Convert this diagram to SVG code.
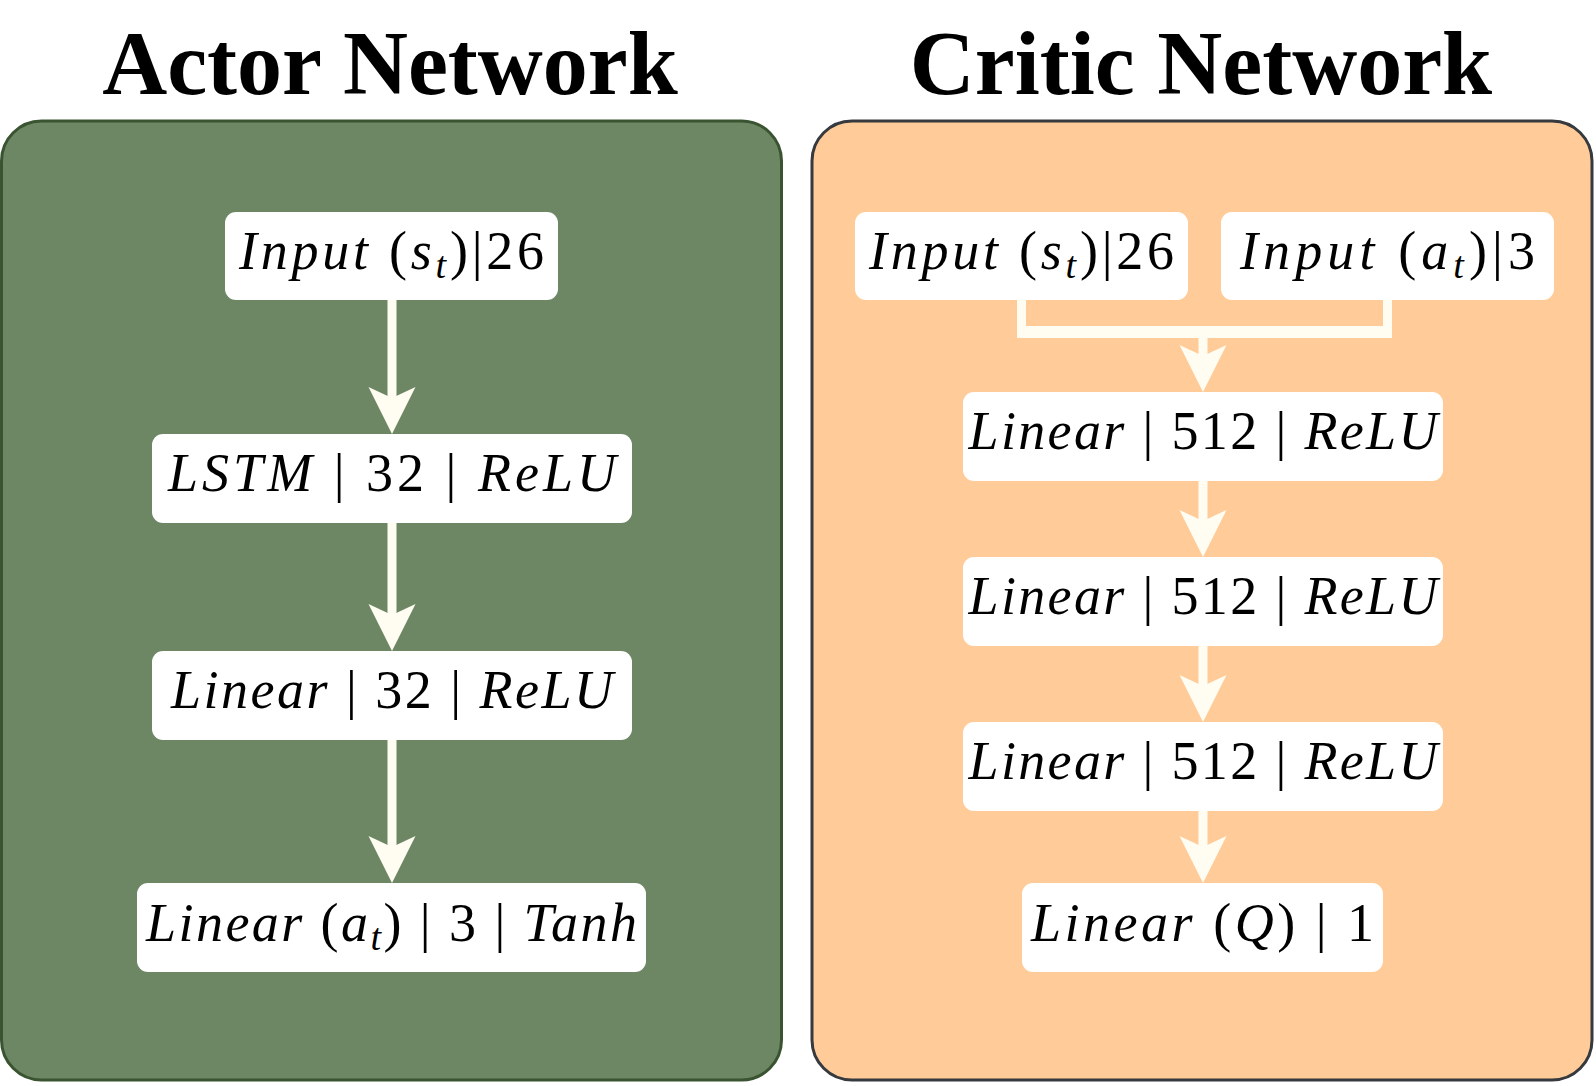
<svg xmlns="http://www.w3.org/2000/svg" width="1596" height="1086" viewBox="0 0 1596 1086">
<style>
.title{font-family:"Liberation Serif","Times New Roman",serif;font-weight:bold;font-size:90px;fill:#000;text-anchor:middle}
.lbl{font-family:"Liberation Serif","DejaVu Serif",serif;font-size:54px;fill:#000;text-anchor:middle}
.i{font-style:italic}
.box{fill:#fff;stroke:none}
.edge{fill:none;stroke:#FFFCF2;stroke-width:9;stroke-linejoin:miter}
.bar{fill:none;stroke:#FFFCF2;stroke-width:12}
</style>
<defs>
<marker id="ah" markerUnits="userSpaceOnUse" markerWidth="48" markerHeight="48" viewBox="0 0 48 48" refX="17" refY="24" orient="auto">
<path d="M47,24 L0,0.5 L11,24 L0,47.5 Z" fill="#FFFCF2"/>
</marker>
</defs>
<rect width="1596" height="1086" fill="#fff"/>
<text class="title" x="390" y="94">Actor Network</text>
<text class="title" x="1201" y="94">Critic Network</text>
<g id="actor-panel"><rect x="1.5" y="121" width="780" height="959" rx="40" fill="#6D8764" stroke="#3A5431" stroke-width="3"/></g>
<g id="critic-panel"><rect x="812" y="121" width="780" height="959" rx="40" fill="#FFCC99" stroke="#36393D" stroke-width="3"/></g>
<g id="connectors">
<path class="edge" d="M392,300 V404" marker-end="url(#ah)"/>
<path class="edge" d="M392,523 V621" marker-end="url(#ah)"/>
<path class="edge" d="M392,740 V853" marker-end="url(#ah)"/>
<path class="edge" d="M1021.5,300 V336"/>
<path class="edge" d="M1387.5,300 V336"/>
<path class="bar" d="M1017,332 H1392"/>
<path class="edge" d="M1203,332 V362" marker-end="url(#ah)"/>
<path class="edge" d="M1203,481 V527" marker-end="url(#ah)"/>
<path class="edge" d="M1203,646 V692" marker-end="url(#ah)"/>
<path class="edge" d="M1203,811 V853" marker-end="url(#ah)"/>
</g>
<g id="a-input"><rect class="box" x="225" y="212" width="333" height="88" rx="11"/>
<text class="lbl" x="391.5" y="269" textLength="305" lengthAdjust="spacing"><tspan class="i">Input</tspan> (<tspan class="i">s</tspan><tspan class="i" font-size="38" dy="9">t</tspan><tspan dy="-9">)|26</tspan></text></g>
<g id="a-lstm"><rect class="box" x="152" y="434" width="480" height="89" rx="11"/>
<text class="lbl" x="392" y="491" textLength="448" lengthAdjust="spacing"><tspan class="i">LSTM</tspan> | 32 | <tspan class="i">ReLU</tspan></text></g>
<g id="a-linear"><rect class="box" x="152" y="651" width="480" height="89" rx="11"/>
<text class="lbl" x="392" y="708" textLength="442" lengthAdjust="spacing"><tspan class="i">Linear</tspan> | 32 | <tspan class="i">ReLU</tspan></text></g>
<g id="a-out"><rect class="box" x="137" y="883" width="509" height="89" rx="11"/>
<text class="lbl" x="391.5" y="941" textLength="491" lengthAdjust="spacing"><tspan class="i">Linear</tspan> (<tspan class="i">a</tspan><tspan class="i" font-size="38" dy="9">t</tspan><tspan dy="-9">) | 3 | </tspan><tspan class="i">Tanh</tspan></text></g>
<g id="c-input-s"><rect class="box" x="855" y="212" width="333" height="88" rx="11"/>
<text class="lbl" x="1021.5" y="269" textLength="305" lengthAdjust="spacing"><tspan class="i">Input</tspan> (<tspan class="i">s</tspan><tspan class="i" font-size="38" dy="9">t</tspan><tspan dy="-9">)|26</tspan></text></g>
<g id="c-input-a"><rect class="box" x="1221" y="212" width="333" height="88" rx="11"/>
<text class="lbl" x="1387.5" y="269" textLength="295" lengthAdjust="spacing"><tspan class="i">Input</tspan> (<tspan class="i">a</tspan><tspan class="i" font-size="38" dy="9">t</tspan><tspan dy="-9">)|3</tspan></text></g>
<g id="c-linear1"><rect class="box" x="963" y="392" width="480" height="89" rx="11"/>
<text class="lbl" x="1203" y="449" textLength="469" lengthAdjust="spacing"><tspan class="i">Linear</tspan> | 512 | <tspan class="i">ReLU</tspan></text></g>
<g id="c-linear2"><rect class="box" x="963" y="557" width="480" height="89" rx="11"/>
<text class="lbl" x="1203" y="614" textLength="469" lengthAdjust="spacing"><tspan class="i">Linear</tspan> | 512 | <tspan class="i">ReLU</tspan></text></g>
<g id="c-linear3"><rect class="box" x="963" y="722" width="480" height="89" rx="11"/>
<text class="lbl" x="1203" y="779" textLength="469" lengthAdjust="spacing"><tspan class="i">Linear</tspan> | 512 | <tspan class="i">ReLU</tspan></text></g>
<g id="c-q"><rect class="box" x="1022" y="883" width="361" height="89" rx="11"/>
<text class="lbl" x="1202.5" y="941" textLength="343" lengthAdjust="spacing"><tspan class="i">Linear</tspan> (<tspan class="i">Q</tspan>) | 1</text></g>
</svg>
